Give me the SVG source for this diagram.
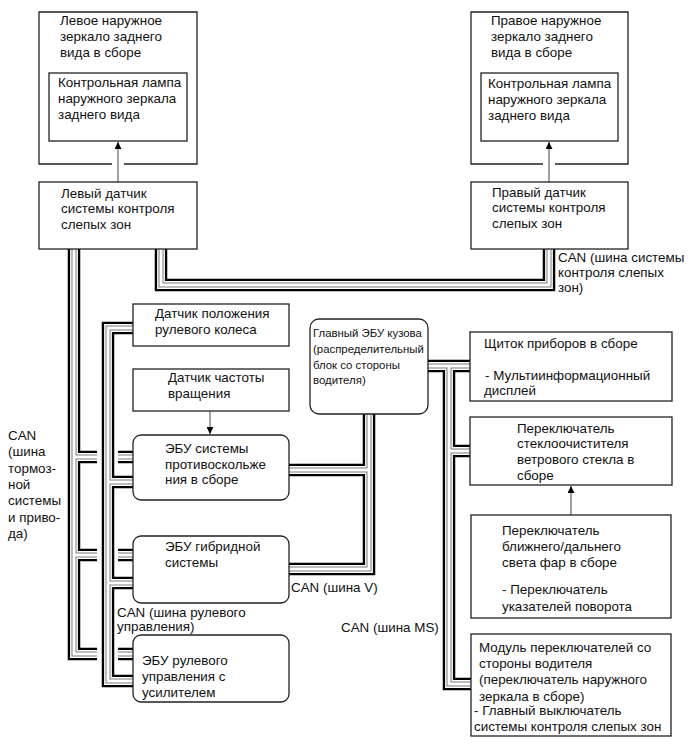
<svg xmlns="http://www.w3.org/2000/svg" xmlns:xlink="http://www.w3.org/1999/xlink" width="690" height="756" viewBox="0 0 690 756">
<style>
  .box{fill:#fff;stroke:#222;stroke-width:1.3}
  .edge{fill:none;stroke:#222;stroke-width:1.3}
  text{font-family:"Liberation Sans",Arial,sans-serif;font-size:13.4px;fill:#111}
  .sm{font-size:11.4px}
  .cab{fill:none;stroke-linejoin:miter;stroke-linecap:butt}
  .k1{stroke:#000;stroke-width:12.5}
  .k2{stroke:#fff;stroke-width:7.8}
  .k3{stroke:#7a7a7a;stroke-width:5}
  .k4{stroke:#fff;stroke-width:3}
  .arr{stroke:#555;stroke-width:1.1;fill:none}
</style>
<defs>
  <marker id="ah" viewBox="0 0 8 8" refX="8" refY="4" markerWidth="7" markerHeight="7" markerUnits="userSpaceOnUse" orient="auto">
    <path d="M0,0 L8,4 L0,8 z" fill="#000"/>
  </marker>
  <path id="cables" d="M161,249 V285 H549 V249
    M74,249 V654 H97 M74,457 H97 M74,555 H97
    M118,457 H133 M118,555 H133 M118,654 H133
    M133,328 H108 V681 H133 M108,482 H133 M108,583 H133
    M369,414 V569 H289 M369,470 H289
    M428,366 H470 M449,366 V684 H471 M449,451 H470"/>
</defs>

<g id="connectors">
  <use xlink:href="#cables" class="cab k1"/>
  <use xlink:href="#cables" class="cab k2"/>
  <use xlink:href="#cables" class="cab k3"/>
  <use xlink:href="#cables" class="cab k4"/>
  <line class="arr" x1="118" y1="182" x2="118" y2="142" marker-end="url(#ah)"/>
  <line class="arr" x1="549" y1="182" x2="549" y2="142" marker-end="url(#ah)"/>
  <line class="arr" x1="210" y1="411" x2="210" y2="434" marker-end="url(#ah)"/>
  <line class="arr" x1="571" y1="515" x2="571" y2="486" marker-end="url(#ah)"/>
</g>

<g id="left-mirror">
  <path class="edge" d="M112,164 H39 V12 H197 V164 H124"/>
  <text x="60" y="25">Левое наружное</text>
  <text x="60" y="41">зеркало заднего</text>
  <text x="60" y="57">вида в сборе</text>
</g>
<g id="left-lamp">
  <rect class="box" x="49" y="73" width="138" height="68"/>
  <text x="58" y="87">Контрольная лампа</text>
  <text x="58" y="103">наружного зеркала</text>
  <text x="58" y="119">заднего вида</text>
</g>
<g id="left-sensor">
  <rect class="box" x="39" y="182" width="158" height="67"/>
  <text x="61" y="198">Левый датчик</text>
  <text x="61" y="213">системы контроля</text>
  <text x="61" y="229">слепых зон</text>
</g>

<g id="right-mirror">
  <path class="edge" d="M543,164 H471 V12 H628 V164 H555"/>
  <text x="491" y="25">Правое наружное</text>
  <text x="491" y="41">зеркало заднего</text>
  <text x="491" y="57">вида в сборе</text>
</g>
<g id="right-lamp">
  <rect class="box" x="481" y="73" width="137" height="68"/>
  <text x="488" y="88">Контрольная лампа</text>
  <text x="488" y="104">наружного зеркала</text>
  <text x="488" y="120">заднего вида</text>
</g>
<g id="right-sensor">
  <rect class="box" x="471" y="182" width="157" height="67"/>
  <text x="492" y="197">Правый датчик</text>
  <text x="492" y="212">системы контроля</text>
  <text x="492" y="228">слепых зон</text>
</g>

<g id="label-can-bsm">
  <text x="558" y="262">CAN (шина системы</text>
  <text x="558" y="277">контроля слепых</text>
  <text x="558" y="292">зон)</text>
</g>

<g id="steering-sensor">
  <rect class="box" x="133" y="304" width="156" height="42"/>
  <text x="155" y="318">Датчик положения</text>
  <text x="155" y="334">рулевого колеса</text>
</g>
<g id="speed-sensor">
  <rect class="box" x="133" y="369" width="156" height="42"/>
  <text x="168" y="382">Датчик частоты</text>
  <text x="168" y="398">вращения</text>
</g>
<g id="abs-ecu">
  <rect class="box" x="133" y="435" width="156" height="65" rx="8"/>
  <text x="165" y="453">ЭБУ системы</text>
  <text x="165" y="469">противоскольже</text>
  <text x="165" y="484">ния в сборе</text>
</g>
<g id="hybrid-ecu">
  <rect class="box" x="133" y="536" width="156" height="67" rx="8"/>
  <text x="165" y="551">ЭБУ гибридной</text>
  <text x="165" y="567">системы</text>
</g>
<g id="eps-ecu">
  <rect class="box" x="133" y="635" width="156" height="67" rx="8"/>
  <text x="142" y="665">ЭБУ рулевого</text>
  <text x="142" y="681">управления с</text>
  <text x="142" y="697">усилителем</text>
</g>

<g id="label-can-brake">
  <text x="8" y="440">CAN</text>
  <text x="8" y="456">(шина</text>
  <text x="8" y="473">тормоз-</text>
  <text x="8" y="489">ной</text>
  <text x="8" y="505">системы</text>
  <text x="8" y="522">и приво-</text>
  <text x="8" y="538">да)</text>
</g>
<g id="label-can-steer">
  <text x="117" y="617">CAN (шина рулевого</text>
  <text x="117" y="631">управления)</text>
</g>
<g id="label-can-v">
  <text x="291" y="592">CAN (шина V)</text>
</g>
<g id="label-can-ms">
  <text x="341" y="632">CAN (шина MS)</text>
</g>

<g id="body-ecu">
  <rect class="box" x="310" y="319" width="118" height="95" rx="9"/>
  <text class="sm" x="313" y="337">Главный ЭБУ кузова</text>
  <text class="sm" x="313" y="353">(распределительный</text>
  <text class="sm" x="313" y="369">блок со стороны</text>
  <text class="sm" x="313" y="384">водителя)</text>
</g>

<g id="instrument-cluster">
  <rect class="box" x="470" y="332" width="202" height="69"/>
  <text x="484" y="348">Щиток приборов в сборе</text>
  <text x="485" y="380">- Мультиинформационный</text>
  <text x="484" y="395">дисплей</text>
</g>
<g id="wiper-switch">
  <rect class="box" x="470" y="417" width="202" height="68"/>
  <text x="517" y="433">Переключатель</text>
  <text x="517" y="448">стеклоочистителя</text>
  <text x="517" y="464">ветрового стекла в</text>
  <text x="517" y="480">сборе</text>
</g>
<g id="headlight-switch">
  <rect class="box" x="471" y="515" width="200" height="103"/>
  <text x="502" y="535">Переключатель</text>
  <text x="502" y="551">ближнего/дальнего</text>
  <text x="502" y="567">света фар в сборе</text>
  <text x="502" y="594">- Переключатель</text>
  <text x="502" y="611">указателей поворота</text>
</g>
<g id="driver-switch-module">
  <rect class="box" x="471" y="634" width="200" height="102"/>
  <text x="479" y="652">Модуль переключателей со</text>
  <text x="479" y="668">стороны водителя</text>
  <text x="479" y="684">(переключатель наружного</text>
  <text x="479" y="701">зеркала в сборе)</text>
  <text x="474" y="715">- Главный выключатель</text>
  <text x="474" y="731">системы контроля слепых зон</text>
</g>
</svg>
